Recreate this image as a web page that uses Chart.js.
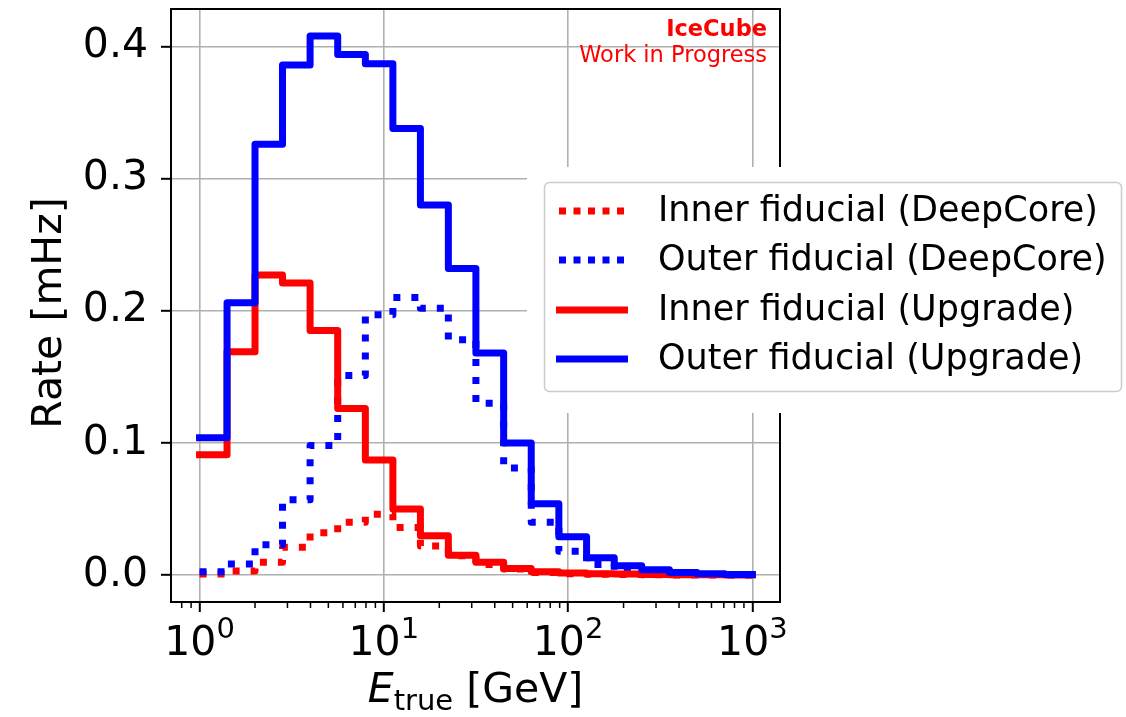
<!DOCTYPE html>
<html>
<head>
<meta charset="utf-8">
<script src="https://cdn.jsdelivr.net/npm/chart.js@4/dist/chart.umd.min.js"></script>
<style>
  html, body { margin: 0; padding: 0; background: #fff; }
  #wrap { position: relative; width: 1126px; height: 717px; }
</style>
</head>
<body>
<div id="wrap"><canvas id="rateChart"></canvas></div>
<script>
// bin edges in GeV (log spaced, 20 bins from 1 to 1000)
const binEdges = [1, 1.41, 2, 2.82, 3.98, 5.62, 7.94, 11.2, 15.8, 22.4, 31.6, 44.7, 63.1, 89.1, 126, 178, 251, 355, 501, 708, 1000];

const seriesLabels = ['Inner fiducial (DeepCore)', 'Outer fiducial (DeepCore)', 'Inner fiducial (Upgrade)', 'Outer fiducial (Upgrade)'];

// rate per bin [mHz]
const innerDeepCore = [0.0008, 0.003, 0.0096, 0.021, 0.032, 0.040, 0.046, 0.036, 0.022, 0.0146, 0.008, 0.0045, 0.002, 0.001, 0.0006, 0.0004, 0.0002, 0.0001, 0.0001, 0.0];
const outerDeepCore = [0.0025, 0.0083, 0.023, 0.057, 0.098, 0.151, 0.197, 0.210, 0.202, 0.178, 0.130, 0.081, 0.040, 0.018, 0.008, 0.003, 0.0015, 0.0008, 0.0004, 0.0002];
const innerUpgrade = [0.091, 0.169, 0.227, 0.221, 0.185, 0.126, 0.087, 0.050, 0.0297, 0.015, 0.0096, 0.005, 0.0025, 0.0015, 0.001, 0.0007, 0.0004, 0.0003, 0.0002, 0.0001];
const outerUpgrade = [0.104, 0.206, 0.326, 0.386, 0.408, 0.394, 0.387, 0.338, 0.280, 0.232, 0.168, 0.100, 0.054, 0.029, 0.013, 0.007, 0.004, 0.002, 0.001, 0.0005];

const xMajorTicks = [1, 10, 100, 1000];
const xTickExponents = ['0', '1', '2', '3'];
const xMinorTicks = [0.8, 0.9, 2, 3, 4, 5, 6, 7, 8, 9, 20, 30, 40, 50, 60, 70, 80, 90, 200, 300, 400, 500, 600, 700, 800, 900];
const yTicks = [0.0, 0.1, 0.2, 0.3, 0.4];
const yTickLabels = ['0.0', '0.1', '0.2', '0.3', '0.4'];

const FONT = 'DejaVu Sans';
Chart.defaults.font.family = FONT;
Chart.defaults.color = '#000';

// histogram step: value holds from the left edge to the next one
const to_steps = (vals) => binEdges.map((e, i) => ({ x: e, y: vals[Math.min(i, vals.length - 1)] }));

const make_set = (label, vals, color, dotted, order) => ({
    label,
    data: to_steps(vals),
    borderColor: color,
    backgroundColor: color,
    borderWidth: 7,
    borderDash: dotted ? [7, 11] : [],
    borderCapStyle: dotted ? 'butt' : 'square',
    borderJoinStyle: 'round',
    stepped: true,
    pointRadius: 0,
    fill: false,
    order
});

// legend, frame, minor ticks, tick exponents, axis titles and the watermark
const decorPlugin = {
    id: 'decor',
    afterDraw(chart) {
        const { ctx, chartArea: a, scales: { x } } = chart;
        ctx.save();

        // minor ticks on the log axis
        ctx.strokeStyle = '#000';
        ctx.lineWidth = 1.5;
        xMinorTicks.forEach(v => {
            const px = x.getPixelForValue(v);
            ctx.beginPath();
            ctx.moveTo(px, a.bottom);
            ctx.lineTo(px, a.bottom + 6);
            ctx.stroke();
        });

        // frame
        ctx.lineWidth = 2;
        ctx.strokeRect(a.left, a.top, a.right - a.left, a.bottom - a.top);

        // decade labels 10^n
        ctx.fillStyle = '#000';
        ctx.textAlign = 'left';
        ctx.textBaseline = 'alphabetic';
        xMajorTicks.forEach((v, i) => {
            const px = x.getPixelForValue(v);
            ctx.font = `41px "${FONT}"`;
            const wBase = ctx.measureText('10').width;
            ctx.font = `29px "${FONT}"`;
            const wExp = ctx.measureText(xTickExponents[i]).width;
            const left = px - (wBase + wExp) / 2;
            ctx.font = `41px "${FONT}"`;
            ctx.fillText('10', left, 655);
            ctx.font = `29px "${FONT}"`;
            ctx.fillText(xTickExponents[i], left + wBase, 638);
        });

        // watermark
        ctx.fillStyle = '#ff0000';
        ctx.textAlign = 'right';
        ctx.font = `bold 22.5px "${FONT}"`;
        ctx.fillText('IceCube', a.right - 13, 36);
        ctx.font = `22.5px "${FONT}"`;
        ctx.fillText('Work in Progress', a.right - 13, 62);

        // y title
        ctx.fillStyle = '#000';
        ctx.save();
        ctx.translate(61, 313);
        ctx.rotate(-Math.PI / 2);
        ctx.textAlign = 'center';
        ctx.font = `41px "${FONT}"`;
        ctx.fillText('Rate [mHz]', 0, 0);
        ctx.restore();

        // x title: E_true [GeV]
        const fMain = `41px "${FONT}"`, fItal = `italic 41px "${FONT}"`, fSub = `29px "${FONT}"`;
        ctx.textAlign = 'left';
        ctx.font = fItal; const wE = ctx.measureText('E').width;
        ctx.font = fSub; const wSub = ctx.measureText('true').width;
        ctx.font = fMain; const wRest = ctx.measureText(' [GeV]').width;
        let tx = (a.left + a.right) / 2 - (wE + wSub + wRest) / 2;
        ctx.font = fItal; ctx.fillText('E', tx, 702); tx += wE;
        ctx.font = fSub; ctx.fillText('true', tx, 710); tx += wSub;
        ctx.font = fMain; ctx.fillText(' [GeV]', tx, 702);

        // legend (sits over the right part of the plot)
        ctx.fillStyle = '#fff';
        ctx.fillRect(527, 167, 1126 - 527, 413 - 167);
        ctx.fillStyle = 'rgba(255,255,255,0.8)';
        ctx.strokeStyle = '#cccccc';
        ctx.lineWidth = 1.5;
        ctx.beginPath();
        ctx.roundRect(544.5, 182.5, 577, 209, 5);
        ctx.fill();
        ctx.stroke();

        const rows = [211, 260, 310, 359];
        chart.data.datasets.forEach((ds, i) => {
            const y = rows[i];
            ctx.strokeStyle = ds.borderColor;
            ctx.lineWidth = 7;
            ctx.lineCap = 'butt';
            if (ds.borderDash.length) {
                ctx.setLineDash([7, 7.5]);
                ctx.beginPath(); ctx.moveTo(559, y); ctx.lineTo(626, y); ctx.stroke();
            } else {
                ctx.setLineDash([]);
                ctx.beginPath(); ctx.moveTo(556, y); ctx.lineTo(628, y); ctx.stroke();
            }
            ctx.setLineDash([]);
            ctx.fillStyle = '#000';
            ctx.font = `35px "${FONT}"`;
            ctx.textBaseline = 'middle';
            ctx.fillText(ds.label, 658, y + 1);
        });
        ctx.restore();
    }
};

new Chart(document.getElementById('rateChart'), {
    type: 'line',
    data: {
        datasets: [
            make_set(seriesLabels[0], innerDeepCore, '#ff0000', true, 4),
            make_set(seriesLabels[1], outerDeepCore, '#0000ff', true, 3),
            make_set(seriesLabels[2], innerUpgrade, '#ff0000', false, 2),
            make_set(seriesLabels[3], outerUpgrade, '#0000ff', false, 1)
        ]
    },
    options: {
        responsive: true,
        maintainAspectRatio: false,
        animation: false,
        layout: { padding: { left: 0, top: 9, right: 346, bottom: 0 } },
        plugins: { legend: { display: false }, tooltip: { enabled: false } },
        scales: {
            x: {
                type: 'logarithmic',
                min: 0.708,
                max: 1412.5,
                afterBuildTicks: (s) => { s.ticks = xMajorTicks.map(v => ({ value: v, major: true })); },
                afterFit: (s) => { s.height = 115; s.paddingLeft = 0; s.paddingRight = 0; },
                ticks: {
                    autoSkip: false,
                    maxRotation: 0,
                    callback: () => ''
                },
                grid: { color: '#b0b0b0', lineWidth: 1.6, tickColor: '#000', tickLength: 10, tickWidth: 2 },
                border: { display: false }
            },
            y: {
                type: 'linear',
                min: -0.0204,
                max: 0.4284,
                afterBuildTicks: (s) => { s.ticks = yTicks.map(v => ({ value: v })); },
                afterFit: (s) => { s.width = 171; s.paddingTop = 0; s.paddingBottom = 0; },
                ticks: {
                    padding: 13,
                    font: { size: 41 },
                    color: '#000',
                    callback: (v, i) => yTickLabels[i]
                },
                grid: { color: '#b0b0b0', lineWidth: 1.6, tickColor: '#000', tickLength: 10, tickWidth: 2 },
                border: { display: false }
            }
        }
    },
    plugins: [decorPlugin]
});
</script>
</body>
</html>
